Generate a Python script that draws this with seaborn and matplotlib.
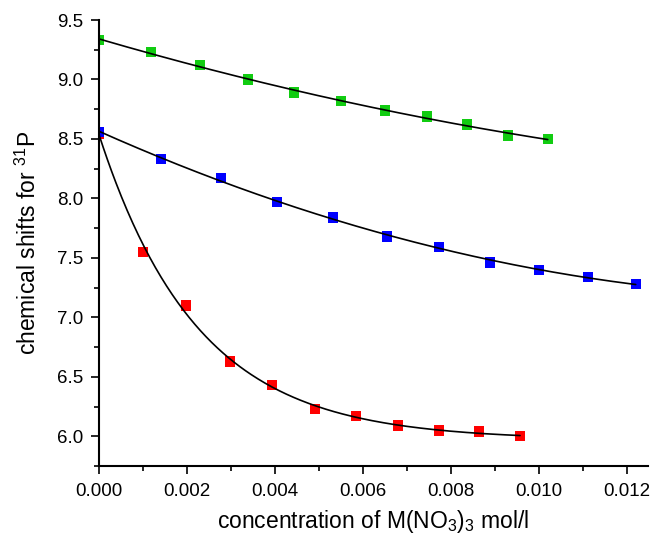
import matplotlib
matplotlib.use("Agg")
import matplotlib.pyplot as plt
import numpy as np
import pandas as pd
import seaborn as sns
from matplotlib.ticker import MultipleLocator, FormatStrFormatter

# chemical shifts (ppm), concentration in mol/l
green_x = [0.0, 0.00118, 0.00230, 0.00339, 0.00443, 0.00550, 0.00650, 0.00745, 0.00836, 0.00930, 0.01020]
green_y = [9.33, 9.23, 9.12, 9.00, 8.89, 8.82, 8.74, 8.69, 8.62, 8.53, 8.50]

blue_x = [0.0, 0.00141, 0.00277, 0.00405, 0.00532, 0.00655, 0.00773, 0.00889, 0.01000, 0.01111, 0.01220]
blue_y = [8.56, 8.33, 8.17, 7.97, 7.84, 7.68, 7.59, 7.46, 7.40, 7.34, 7.28]

red_x = [0.0, 0.00100, 0.00198, 0.00298, 0.00393, 0.00491, 0.00584, 0.00680, 0.00773, 0.00864, 0.00957]
red_y = [8.54, 7.55, 7.10, 6.63, 6.43, 6.23, 6.17, 6.09, 6.05, 6.04, 6.00]

series_names = ["red", "green", "blue"]
series_colors = {"red": "#ff0000", "green": "#11cc11", "blue": "#0000ff"}


def exp_fit(x, y):
    """y = c + exp(b + k*x), offset c found by a simple grid search."""
    x = np.asarray(x)
    y = np.asarray(y)
    best = None
    for c in np.linspace(y.min() - 1.5, y.min() - 0.005, 600):
        k, b = np.polyfit(x, np.log(y - c), 1)
        sse = np.sum((c + np.exp(b + k * x) - y) ** 2)
        if best is None or sse < best[0]:
            best = (sse, c, k, b)
    _, c, k, b = best
    return lambda t: c + np.exp(b + k * t)


def poly_fit(x, y, deg=2):
    p = np.polyfit(x, y, deg)
    return lambda t: np.polyval(p, t)


data = pd.concat([
    pd.DataFrame({"conc": red_x, "shift": red_y, "series": "red"}),
    pd.DataFrame({"conc": green_x, "shift": green_y, "series": "green"}),
    pd.DataFrame({"conc": blue_x, "shift": blue_y, "series": "blue"}),
], ignore_index=True)

fits = {
    "red": exp_fit(red_x, red_y),
    "green": poly_fit(green_x, green_y),
    "blue": poly_fit(blue_x, blue_y),
}

sns.set_theme(style="ticks")
plt.rcParams["font.family"] = ["Liberation Sans", "DejaVu Sans"]
plt.rcParams["mathtext.fontset"] = "custom"
plt.rcParams["mathtext.rm"] = "Liberation Sans"
plt.rcParams["mathtext.it"] = "Liberation Sans"
plt.rcParams["mathtext.bf"] = "Liberation Sans:bold"

fig = plt.figure(figsize=(6.54, 5.35), dpi=100)
ax = fig.add_axes([0.1514, 0.129, 0.8395, 0.8336])

sns.scatterplot(data=data, x="conc", y="shift", hue="series", hue_order=series_names,
                palette=series_colors, marker="s", s=56, linewidth=0, legend=False,
                ax=ax, zorder=2)

# fitted curves drawn over the markers, from 0 to the last point
for name in series_names:
    xs = data.loc[data.series == name, "conc"]
    t = np.linspace(0, xs.max(), 300)
    sns.lineplot(x=t, y=fits[name](t), color="black", linewidth=1.2, ax=ax, zorder=3)

ax.set_xlim(0, 0.01248)
ax.set_ylim(5.75, 9.5)
ax.xaxis.set_major_locator(MultipleLocator(0.002))
ax.xaxis.set_minor_locator(MultipleLocator(0.001))
ax.yaxis.set_major_locator(MultipleLocator(0.5))
ax.yaxis.set_minor_locator(MultipleLocator(0.25))
ax.xaxis.set_major_formatter(FormatStrFormatter("%.3f"))
ax.yaxis.set_major_formatter(FormatStrFormatter("%.1f"))

sns.despine(ax=ax)
for side in ["left", "bottom"]:
    ax.spines[side].set_linewidth(1.5)
    ax.spines[side].set_color("black")
ax.tick_params(which="major", length=6, width=1.2, color="black",
               labelcolor="black", labelsize=13.5)
ax.tick_params(axis="x", which="major", pad=6)
ax.tick_params(axis="y", which="major", pad=5)
ax.tick_params(which="minor", length=3.5, width=1.2, color="black")

ax.set_xlabel("concentration of M(NO$_3$)$_3$ mol/l", fontsize=16.5, labelpad=6, color="black")
ax.set_ylabel("chemical shifts for $^{31}$P", fontsize=16.5, labelpad=12, color="black")

fig.savefig("out.png", dpi=100)
plt.close(fig)
